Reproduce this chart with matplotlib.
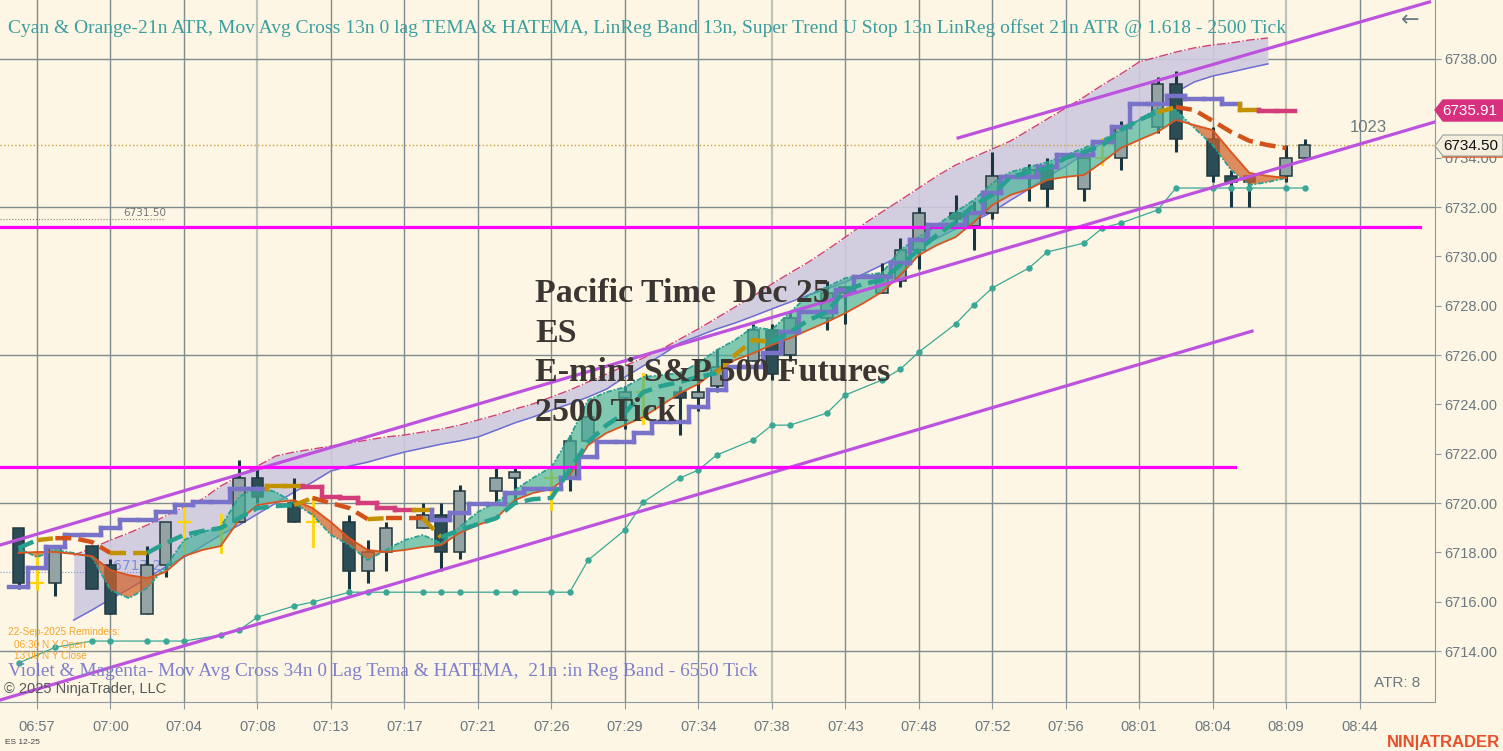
import numpy as np
import matplotlib.pyplot as plt
from matplotlib.patches import Polygon

# ---- data (price values, one entry per time slot) ----
N = None
opens = [6719.0, 6716.75, 6716.75, N, 6718.25, 6717.5, N, 6715.5, 6717.5, 6719.25,
         N, 6719.0, 6719.25, 6721.0, N, 6720.0, 6719.25, N, 6719.25, 6717.25,
         6718.0, N, 6719.0, 6719.5, 6718.0, N, 6720.5, 6721.0, N, 6721.0,
         6721.0, 6722.5, N, 6724.25, 6724.5, N, 6724.5, 6724.25, 6724.75, N,
         6725.75, 6727.0, 6726.0, N, 6727.5, 6728.75, N, 6728.5, 6729.0, 6730.25,
         N, 6731.75, 6731.25, 6731.75, N, 6733.25, 6733.5, N, 6732.75, 6734.0,
         6734.0, N, 6735.25, 6737.0, N, 6734.75, 6733.25, 6733.25, N, 6733.25, 6734.0]
highs = [6719.0, 6718.0, 6718.25, N, 6718.25, 6717.75, N, 6718.25, 6719.25, 6720.0,
         N, 6719.5, 6721.75, 6721.5, N, 6721.0, 6720.25, N, 6719.5, 6718.5,
         6719.25, N, 6720.0, 6720.0, 6720.75, N, 6721.5, 6721.5, N, 6721.25,
         6722.75, 6724.0, N, 6724.75, 6725.25, N, 6724.75, 6725.0, 6726.25, N,
         6727.25, 6727.25, 6727.75, N, 6729.0, 6728.75, N, 6729.75, 6730.75, 6732.0,
         N, 6732.5, 6732.25, 6734.25, N, 6733.75, 6734.0, N, 6734.0, 6734.75,
         6735.5, N, 6737.25, 6737.5, N, 6735.25, 6733.5, 6733.25, N, 6734.5, 6734.75]
lows = [6716.5, 6716.5, 6716.25, N, 6716.5, 6715.5, N, 6715.5, 6717.0, 6718.0,
        N, 6718.0, 6719.25, 6720.0, N, 6719.25, 6718.25, N, 6716.5, 6716.75,
        6717.25, N, 6719.0, 6717.25, 6717.75, N, 6720.0, 6720.0, N, 6719.75,
        6720.5, 6722.5, N, 6723.0, 6723.25, N, 6722.75, 6723.75, 6724.5, N,
        6725.75, 6725.0, 6725.75, N, 6727.0, 6727.25, N, 6728.5, 6728.75, 6729.5,
        N, 6731.25, 6730.25, 6731.5, N, 6732.25, 6732.0, N, 6732.25, 6733.75,
        6733.5, N, 6735.0, 6734.25, N, 6733.0, 6732.0, 6732.0, N, 6733.0, 6734.0]
closes = [6716.75, 6716.75, 6718.25, N, 6716.5, 6715.5, N, 6717.5, 6719.25, 6719.25,
          N, 6719.0, 6721.0, 6720.25, N, 6719.25, 6719.25, N, 6717.25, 6718.0,
          6719.0, N, 6719.5, 6718.0, 6720.5, N, 6721.0, 6721.25, N, 6721.0,
          6722.5, 6723.5, N, 6724.5, 6724.5, N, 6724.25, 6724.5, 6725.5, N,
          6727.0, 6725.25, 6727.5, N, 6728.5, 6728.5, N, 6729.25, 6730.25, 6731.75,
          N, 6731.5, 6731.75, 6733.25, N, 6733.5, 6732.75, N, 6734.0, 6734.0,
          6735.25, N, 6737.0, 6734.75, N, 6733.25, 6733.0, 6733.0, N, 6734.0, 6734.5]

# TEMA (cyan) and HATEMA (orange) thin lines, slots 0..69
tema = [6718.18, 6717.81, 6718.10, 6717.98, 6717.81, 6716.48, 6716.15, 6716.56, 6717.41, 6718.50,
        6718.83, 6719.03, 6720.25, 6720.65, 6720.45, 6720.00, 6719.52, 6718.71, 6718.30, 6717.69,
        6718.10, 6718.50, 6718.71, 6718.38, 6719.03, 6719.64, 6720.04, 6720.53, 6721.02, 6721.46,
        6722.68, 6724.18, 6724.50, 6724.70, 6725.11, 6725.19, 6725.27, 6725.68, 6726.20, 6726.61,
        6727.14, 6727.02, 6727.74, 6728.43, 6728.76, 6729.12, 6729.24, 6729.33, 6730.26, 6730.78,
        6731.27, 6731.80, 6732.28, 6732.97, 6733.42, 6733.62, 6733.82, 6734.11, 6734.39, 6734.72,
        6735.12, 6735.53, 6736.01, 6735.93, 6735.20, 6734.51, 6733.50, 6732.89, 6733.01, 6733.18]
hatema = [6717.98, 6718.02, 6718.02, 6717.94, 6717.85, 6717.29, 6717.08, 6716.96, 6717.21, 6717.85,
          6718.10, 6718.26, 6719.31, 6719.92, 6720.04, 6720.12, 6719.80, 6719.23, 6718.58, 6718.10,
          6718.02, 6718.10, 6718.22, 6718.30, 6718.79, 6719.11, 6719.39, 6720.12, 6720.41, 6720.57,
          6721.14, 6722.35, 6722.84, 6723.16, 6723.49, 6723.97, 6724.46, 6724.83, 6725.39, 6725.80,
          6726.08, 6726.41, 6726.69, 6727.02, 6727.34, 6727.70, 6728.11, 6728.56, 6729.24, 6730.05,
          6730.46, 6730.78, 6731.39, 6732.08, 6732.49, 6732.73, 6733.10, 6733.22, 6733.30, 6733.82,
          6734.39, 6734.72, 6735.04, 6735.53, 6735.32, 6735.12, 6734.23, 6733.38, 6733.26, 6733.18]

# dashed moving average cross line and its colour state per slot
ma_cross = [6718.18, 6718.50, 6718.58, 6718.58, 6718.42, 6717.98, 6717.98, 6717.98, 6718.38, 6718.71,
            6718.87, 6718.99, 6719.39, 6719.80, 6719.88, 6719.92, 6720.21, 6720.00, 6719.80, 6719.35,
            6719.39, 6719.39, 6719.39, 6718.62, 6718.91, 6719.15, 6719.39, 6720.00, 6720.16, 6720.21,
            6721.34, 6722.48, 6723.16, 6723.65, 6724.50, 6724.75, 6724.91, 6725.11, 6725.27, 6726.00,
            6726.61, 6726.53, 6726.93, 6727.42, 6727.74, 6728.64, 6728.88, 6729.04, 6729.65, 6730.26,
            6730.87, 6731.39, 6732.08, 6732.49, 6733.22, 6733.42, 6733.58, 6733.99, 6734.23, 6734.51,
            6735.12, 6735.53, 6735.85, 6736.05, 6735.93, 6735.49, 6735.04, 6734.68, 6734.51, 6734.39]
ma_state = "ttgooogg" + "t" * 8 + "gooogoog" + "t" * 15 + "gggt" + "t" * 20 + "go" + "ooooo"

# super trend stop (step line) and its colour state per slot
stop = [6716.60, 6717.37, 6718.22, 6718.71, 6718.71, 6718.99, 6719.31, 6719.31, 6719.64, 6719.92,
        6720.04, 6720.04, 6720.57, 6720.57, 6720.69, 6720.69, 6720.65, 6720.25, 6720.21, 6720.00,
        6719.80, 6719.72, 6719.72, 6719.31, 6719.60, 6719.96, 6719.96, 6720.41, 6720.57, 6720.57,
        6721.02, 6721.87, 6722.48, 6722.48, 6722.84, 6723.29, 6723.29, 6723.89, 6724.58, 6725.52,
        6725.52, 6726.08, 6726.93, 6727.74, 6727.74, 6728.64, 6729.16, 6729.16, 6729.73, 6730.66,
        6731.27, 6731.27, 6731.76, 6732.57, 6733.22, 6733.22, 6733.62, 6734.11, 6734.11, 6734.64,
        6735.24, 6736.18, 6736.18, 6736.50, 6736.38, 6736.38, 6736.18, 6735.93, 6735.91, 6735.91]
stop_state = "u" * 14 + "ggddddddg" + "u" * 40 + "uuuug" + "dddddd"

# ATR trailing dots (only where a bar exists)
atr_slots = [0, 2, 4, 5, 7, 8, 9, 11, 12, 13, 15, 16, 18, 19, 20, 22, 23, 24, 26, 27,
             29, 30, 31, 33, 34, 36, 37, 38, 40, 41, 42, 44, 45, 47, 48, 49, 51, 52, 53, 55,
             56, 58, 59, 60, 62, 63, 65, 66, 67, 69, 70]
atr_vals = [6713.52, 6714.16, 6714.41, 6714.41, 6714.41, 6714.41, 6714.41, 6714.65, 6714.85, 6715.38,
            6715.83, 6715.99, 6716.39, 6716.39, 6716.39, 6716.39, 6716.39, 6716.39, 6716.39, 6716.39,
            6716.39, 6716.39, 6717.69, 6718.91, 6720.04, 6721.02, 6721.34, 6721.95, 6722.56, 6723.16,
            6723.16, 6723.65, 6724.38, 6724.99, 6725.43, 6726.12, 6727.26, 6728.03, 6728.72, 6729.53,
            6730.18, 6730.54, 6731.15, 6731.35, 6731.88, 6732.77, 6732.77, 6732.77, 6732.77, 6732.77, 6732.77]

# LinReg band (slots 3..68): upper dash-dot line and lower line
band_top = [6717.89, 6718.18, 6718.50, 6718.79, 6719.11, 6719.48, 6719.84, 6720.16, 6720.69, 6721.10,
            6721.50, 6721.91, 6722.07, 6722.19, 6722.31, 6722.43, 6722.56, 6722.68, 6722.76, 6722.88,
            6723.00, 6723.16, 6723.37, 6723.57, 6723.81, 6724.02, 6724.30, 6724.58, 6724.91, 6725.23,
            6725.56, 6725.88, 6726.24, 6726.65, 6727.06, 6727.50, 6727.95, 6728.39, 6728.88, 6729.33,
            6729.77, 6730.26, 6730.78, 6731.31, 6731.80, 6732.28, 6732.77, 6733.26, 6733.70, 6734.03,
            6734.35, 6734.68, 6735.12, 6735.57, 6736.01, 6736.46, 6736.95, 6737.39, 6737.88, 6738.08,
            6738.28, 6738.45, 6738.57, 6738.65, 6738.77, 6738.85]
band_bot = [6715.26, 6715.67, 6716.11, 6716.52, 6716.96, 6717.41, 6717.81, 6718.26, 6718.71, 6719.11,
            6719.56, 6720.00, 6720.45, 6720.85, 6721.30, 6721.50, 6721.66, 6721.87, 6722.07, 6722.23,
            6722.39, 6722.52, 6722.68, 6722.96, 6723.25, 6723.49, 6723.77, 6724.02, 6724.30, 6724.62,
            6725.11, 6725.56, 6726.00, 6726.49, 6726.77, 6727.06, 6727.30, 6727.58, 6727.87, 6728.15,
            6728.43, 6728.68, 6728.96, 6729.29, 6729.65, 6730.01, 6730.38, 6730.74, 6731.11, 6731.43,
            6731.80, 6732.28, 6732.73, 6733.22, 6733.66, 6734.15, 6734.60, 6735.04, 6735.53, 6735.97,
            6736.66, 6737.07, 6737.31, 6737.47, 6737.64, 6737.80]

# regression channel lines: (slot, price) end points
reg_lower = [(-1.01, 6712.02), (67.14, 6726.97)]
reg_mid = [(-1.01, 6718.30), (77.10, 6735.45)]
reg_upper = [(51.14, 6734.80), (76.80, 6740.31)]

support_levels = [6731.19, 6721.46]
support_ends = [76.3, 66.2]
last_price = 6734.50
stop_price = 6735.91

tick_slots = list(range(1, 74, 4))
tick_labels = ["06:57", "07:00", "07:04", "07:08", "07:13", "07:17", "07:21", "07:26", "07:29", "07:34",
               "07:38", "07:43", "07:48", "07:52", "07:56", "08:01", "08:04", "08:09", "08:44"]
price_ticks = list(range(6714, 6739, 2))

# ---- styling ----
BG = "#fdf6e4"
GRID = "#7e8b91"
TXT = "#6d7880"

fig = plt.figure(figsize=(15.03, 7.51), dpi=100, facecolor=BG)
ax = fig.add_axes([0, 49 / 751, 1435 / 1503, 702 / 751], facecolor=BG)
ax.set_xlim(-1.0125, 77.1)
ax.set_ylim(6711.94, 6740.39)

def px(x, y):
    return x / 1503, 1 - y / 751

# grid
for s in tick_slots:
    light = s in (13, 41, 69)
    ax.axvline(s, color="#bfc2b8" if light else GRID, lw=1.6 if light else 1.0, zorder=0.5)
for p in range(6714, 6739, 6):
    ax.axhline(p, color=GRID, lw=1.0, zorder=0.5)

n = len(tema)
xs = np.arange(n)
bx = np.arange(3, 3 + len(band_top))

# LinReg band
ax.fill_between(bx, band_bot, band_top, color="#cfcadf", alpha=0.9, lw=0, zorder=1)
ax.plot(bx, band_top, color="#d0407a", lw=1.0, ls="-.", zorder=1.2)
ax.plot(bx, band_bot, color="#6e6ed2", lw=1.1, zorder=1.2)

# last price dotted line and small price notes
ax.axhline(last_price, color="#c9a13a", lw=1.0, ls=":", zorder=1.5)
ax.plot([-1.01, 7.97], [6731.51, 6731.51], color="#808080", lw=0.8, ls=":", zorder=1.5)
fig.text(*px(145, 213), "6731.50", fontsize=7.5, color="#777777", ha="center", va="center")
ax.plot([-1.01, 7.7], [6717.2, 6717.2], color="#7b8fe0", lw=0.8, ls=":", zorder=1.5)
ax.text(6.7, 6717.45, "6717.25", fontsize=10, color="#7b8fe0", ha="center", va="center", zorder=1.6)

# candles
for i, (o, h, l, c) in enumerate(zip(opens, highs, lows, closes)):
    if o is None:
        continue
    if o == c:
        ax.plot([i, i], [l, h], color="#ffd400", lw=2.0, zorder=2)
        ax.plot([i - 0.32, i + 0.32], [o, o], color="#ffd400", lw=1.6, zorder=2)
        continue
    ax.plot([i, i], [l, h], color="#173642", lw=2.2, zorder=2, solid_capstyle="butt")
    up = c > o
    ax.bar(i, abs(c - o), bottom=min(o, c), width=0.64,
           color="#94a3a3" if up else "#2c4c56", edgecolor="#22383f", lw=1.1, zorder=2.1)

# cyan / orange fill between TEMA and HATEMA
t = np.array(tema)
hm = np.array(hatema)
ax.fill_between(xs, t, hm, where=t >= hm, interpolate=True, color="#46b39a", alpha=0.68, lw=0, zorder=3)
ax.fill_between(xs, t, hm, where=t < hm, interpolate=True, color="#d2622b", alpha=0.72, lw=0, zorder=3)
ax.plot(xs, tema, color="#2aa192", lw=1.3, ls=(0, (3, 1, 1, 1)), zorder=3.2)
ax.plot(xs, hatema, color="#d9541e", lw=1.3, zorder=3.2)

# ATR trailing dots
ax.plot(atr_slots, atr_vals, color="#3aa896", lw=0.9, marker="o", ms=3.6, zorder=3.4)

# regression channel
for seg in (reg_lower, reg_mid, reg_upper):
    ax.plot([seg[0][0], seg[1][0]], [seg[0][1], seg[1][1]], color="#bd52df", lw=2.3, zorder=4)

# magenta support/resistance lines
for lvl, end in zip(support_levels, support_ends):
    ax.plot([-1.02, end], [lvl, lvl], color="#ff00ff", lw=2.3, zorder=4.2)

# super trend step line
stop_cols = {"u": "#7872c9", "g": "#c29200", "d": "#d43d7c"}
for i in range(len(stop)):
    c = stop_cols[stop_state[i]]
    ax.plot([i - 0.5, i + 0.5], [stop[i], stop[i]], color=c, lw=3.2, zorder=5,
            solid_capstyle="projecting")
    if i > 0 and stop[i] != stop[i - 1]:
        ax.plot([i - 0.5, i - 0.5], [stop[i - 1], stop[i]], color=c, lw=3.2, zorder=5,
                solid_capstyle="projecting")

# dashed moving average cross
ma_cols = {"t": "#27a08f", "o": "#d2521a", "g": "#c29200"}
i = 1
while i < len(ma_cross):
    j = i
    while j + 1 < len(ma_cross) and ma_state[j + 1] == ma_state[i]:
        j += 1
    ax.plot(xs[i - 1:j + 1], ma_cross[i - 1:j + 1], color=ma_cols[ma_state[i]], lw=3.2,
            dashes=(3.6, 1.6), zorder=5.5)
    i = j + 1

# axes styling
for s in ("top", "left"):
    ax.spines[s].set_visible(False)
ax.spines["right"].set_color("#8d9a9f")
ax.spines["bottom"].set_color("#8d9a9f")
ax.yaxis.tick_right()
ax.set_yticks(price_ticks)
ax.set_yticklabels([f"{p:.2f}" for p in price_ticks])
ax.set_xticks(tick_slots)
ax.set_xticklabels(tick_labels)
ax.tick_params(axis="y", colors="#8d9a9f", labelcolor=TXT, length=4, pad=3)
ax.tick_params(axis="x", colors="#8d9a9f", labelcolor=TXT, length=5, pad=8)
for lab in ax.get_xticklabels() + ax.get_yticklabels():
    lab.set_fontfamily("Liberation Sans")
    lab.set_fontsize(10.5)

# price markers on the axis
mag = Polygon([px(1435, 110), px(1443, 100), px(1503, 100), px(1503, 121), px(1443, 121)],
              closed=True, transform=fig.transFigure, color="#d6307f", zorder=10)
fig.patches.append(mag)
fig.text(*px(1470, 111), f"{stop_price:.2f}", color="white", fontsize=11,
         family="Liberation Sans", ha="center", va="center", zorder=11)
lp = Polygon([px(1435, 146), px(1443, 135), px(1503, 135), px(1503, 156), px(1443, 156)],
             closed=True, transform=fig.transFigure, facecolor="#f4eedc", edgecolor="#9aa0a0",
             lw=0.8, zorder=10)
fig.patches.append(lp)
fig.text(*px(1471, 146), f"{last_price:.2f}", color="#111111", fontsize=11,
         family="Liberation Sans", ha="center", va="center", zorder=11)
fig.lines.append(plt.Line2D([1443 / 1503, 1], [1 - 157 / 751] * 2, transform=fig.transFigure,
                            color="#e0602a", lw=1.2))

# texts
fig.text(*px(8, 28), "Cyan & Orange-21n ATR, Mov Avg Cross 13n 0 lag TEMA & HATEMA, LinReg Band 13n, "
         "Super Trend U Stop 13n LinReg offset 21n ATR @ 1.618 - 2500 Tick",
         family="Liberation Serif", fontsize=14.0, color="#3a9f9f", ha="left", va="center")
fig.text(*px(8, 672), "Violet & Magenta- Mov Avg Cross 34n 0 Lag Tema & HATEMA,  21n :in Reg Band - 6550 Tick",
         family="Liberation Serif", fontsize=13.9, color="#7f7fcb", ha="left", va="center")
fig.text(*px(4, 689), "\u00a9 2025 NinjaTrader, LLC", family="Liberation Sans", fontsize=10.5,
         color="#585858", ha="left", va="center")
center_lines = ["Pacific Time  Dec 25", "ES", "E-mini S&P 500 Futures", "2500 Tick"]
for k, line in enumerate(center_lines):
    fig.text(*px(535, 302 + 39.5 * k), line, family="Liberation Serif", fontsize=24.5,
             weight="bold", color="#3b3631", ha="left", va="baseline", zorder=20)
fig.text(*px(8, 632), "22-Sep-2025 Reminders:", fontsize=7.2, color="#f4a52a",
         family="Liberation Sans", ha="left", va="center")
fig.text(*px(14, 645), "06:30 N Y Open", fontsize=7.2, color="#f4a52a",
         family="Liberation Sans", ha="left", va="center")
fig.text(*px(14, 656), "13:00 N Y Close", fontsize=7.2, color="#f4a52a",
         family="Liberation Sans", ha="left", va="center")
fig.text(*px(1368, 127), "1023", fontsize=12, color=TXT, family="Liberation Sans",
         ha="center", va="center")
fig.text(*px(1420, 683), "ATR: 8", fontsize=11, color=TXT, family="Liberation Sans",
         ha="right", va="center")
fig.text(*px(1410, 20), "\u2190", fontsize=16, color="#6a7a85", ha="center", va="center")
fig.text(*px(5, 742), "ES 12-25", fontsize=6, color="#444444", family="Liberation Sans",
         ha="left", va="center")
fig.text(*px(1500, 742), "NIN|ATRADER", fontsize=12, color="#e8502a", weight="bold",
         family="Liberation Sans", ha="right", va="center")

fig.savefig("out.png", dpi=100, facecolor=BG)
